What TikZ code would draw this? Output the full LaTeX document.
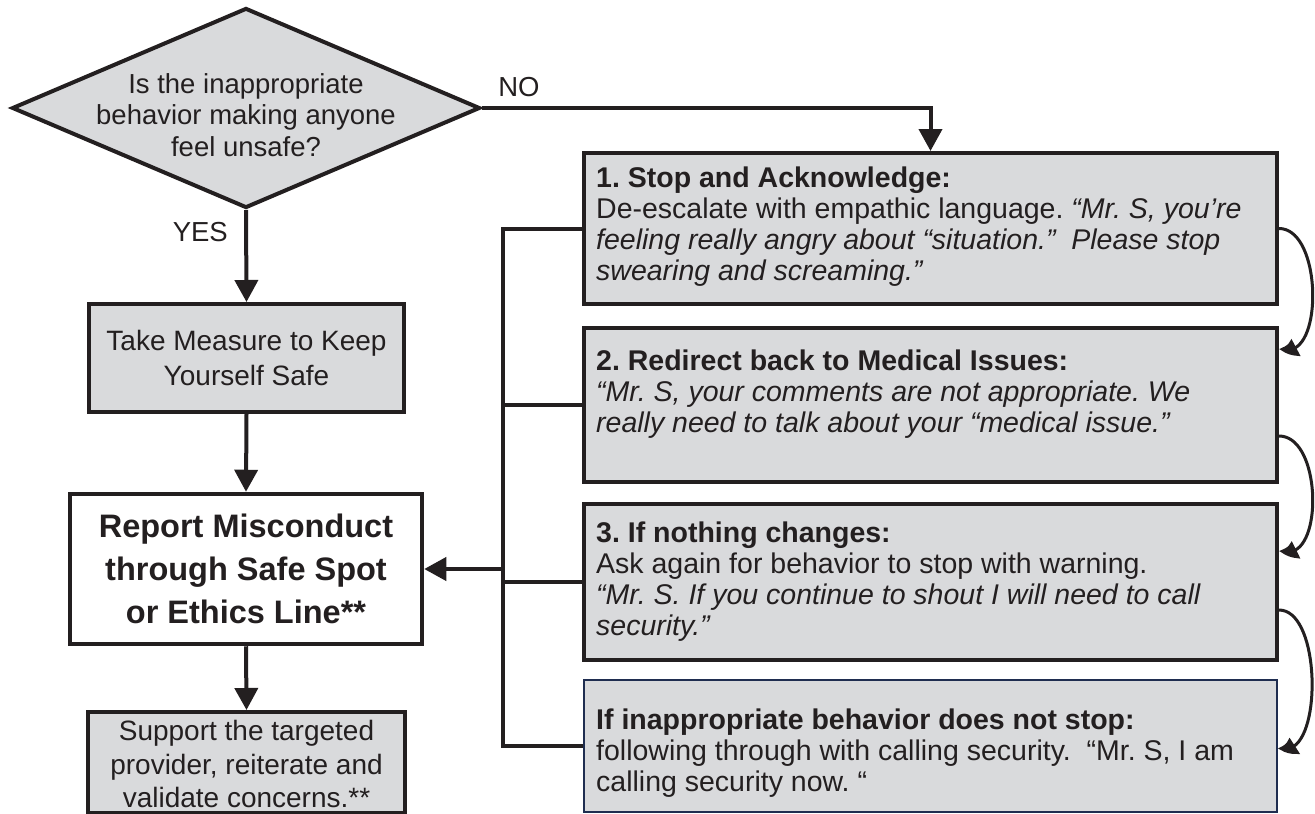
\documentclass[tikz,border=0pt]{standalone}
\usepackage{fontspec}
\setmainfont{Liberation Sans}
\usetikzlibrary{arrows.meta,shapes.geometric,calc,bending}
\definecolor{boxgray}{RGB}{217,218,220}
\definecolor{ink}{RGB}{35,31,32}
\definecolor{navy}{RGB}{31,45,80}
\begin{document}
\frenchspacing
\begin{tikzpicture}[x=1pt,y=-1pt,
  gbox/.style={draw=ink, line width=4pt, fill=boxgray, inner sep=0pt},
  wbox/.style={draw=ink, line width=4.5pt, fill=white, inner sep=0pt},
  nbox/.style={draw=navy, line width=1.5pt, fill=boxgray, inner sep=0pt},
  ltext/.style={font=\fontsize{28}{34.5}\selectfont, align=center, text=ink, inner sep=0pt},
  dtext/.style={font=\fontsize{27.5}{31.5}\selectfont, align=center, text=ink, inner sep=0pt},
  btext/.style={font=\bfseries\fontsize{32.5}{43}\selectfont, align=center, text=ink, inner sep=0pt},
  rtext/.style={font=\fontsize{28.5}{31}\selectfont, align=left, text=ink, inner sep=0pt, anchor=north west},
  lbl/.style={font=\fontsize{27.5}{31}\selectfont, text=ink, inner sep=0pt},
  line/.style={draw=ink, line width=4pt},
  conn/.style={draw=ink, line width=4pt, -{Triangle[length=22pt,width=23pt]}},
  curve/.style={draw=ink, line width=3pt, -{Triangle[length=20pt,width=18pt,bend]}}
]
\useasboundingbox (0,0) rectangle (1315,814);

% left column
\node[diamond, draw=ink, line width=4pt, fill=boxgray, minimum width=468pt, minimum height=200pt, inner sep=0pt] (dia) at (246,108) {};
\node[dtext] (q) at (246,115) {Is the inappropriate\\behavior making anyone\\feel unsafe?};
\node[gbox, minimum width=315pt, minimum height=108pt] (tm) at (246.5,358) {};
\node[ltext] (tmt) at (246.5,358) {Take Measure to Keep\\Yourself Safe};
\node[wbox, minimum width=352pt, minimum height=150pt] (rep) at (246,569) {};
\node[btext] (rept) at (246,569) {Report Misconduct\\through Safe Spot\\or Ethics Line**};
\node[gbox, minimum width=317pt, minimum height=101pt] (sup) at (246.5,762.5) {};
\node[ltext, font=\fontsize{28}{33.5}\selectfont] (supt) at (246.5,764) {Support the targeted\\provider, reiterate and\\validate concerns.**};

\node[lbl, anchor=east] (yes) at (228,232) {YES};
\node[lbl] (no) at (519,87) {NO};

% right column
\node[gbox, minimum width=693pt, minimum height=151pt] (b1) at (930.5,228.5) {};
\node[gbox, minimum width=693pt, minimum height=154pt] (b2) at (930.5,405) {};
\node[gbox, minimum width=693pt, minimum height=156pt] (b3) at (930.5,582) {};
\node[nbox, minimum width=693pt, minimum height=132pt] (b4) at (930.5,746) {};

\node[rtext] (t1) at (596,166.5) {\textbf{1. Stop and Acknowledge:}\\
De-escalate with empathic language. \textit{“Mr. S, you’re}\\
\textit{feeling really angry about “situation.”\ \ Please stop}\\
\textit{swearing and screaming.”}};
\node[rtext] (t2) at (596,350) {\textbf{2. Redirect back to Medical Issues:}\\
\textit{“Mr. S, your comments are not appropriate. We}\\
\textit{really need to talk about your “medical issue.”}};
\node[rtext] (t3) at (596,521.5) {\textbf{3. If nothing changes:}\\
Ask again for behavior to stop with warning.\\
\textit{“Mr. S. If you continue to shout I will need to call}\\
\textit{security.”}};
\node[rtext] (t4) at (596,708.5) {\textbf{If inappropriate behavior does not stop:}\\
following through with calling security.\ \ “Mr. S, I am\\
calling security now. “};

% connectors
\draw[conn] (dia.south) -- (tm.north);
\draw[conn] (tm.south) -- (rep.north);
\draw[conn] (rep.south) -- (sup.north);
\draw[conn] (dia.east) -| (b1.north);

\coordinate (busx) at (503,0);
\draw[line] (b1.west) -- (b1.west -| busx) -- (b4.west -| busx) -- (b4.west);
\draw[line] (b2.west) -- (b2.west -| busx);
\draw[line] (b3.west) -- (b3.west -| busx);
\draw[conn] (rep.east -| busx) -- (rep.east);

% curved arrows on the right
\coordinate (c1s) at (b1.east);
\coordinate (c1e) at ($(b2.north east)+(0,22)$);
\coordinate (c2s) at ($(b2.north east)+(0,110)$);
\coordinate (c2e) at ($(b3.north east)+(0,48)$);
\coordinate (c3s) at ($(b3.north east)+(0,108)$);
\coordinate (c3e) at ($(b4.north east)+(0,68)$);
\draw[curve] (c1s) .. controls +(45,0) and +(45,20) .. (c1e);
\draw[curve] (c2s) .. controls +(45,0) and +(45,20) .. (c2e);
\draw[curve] (c3s) .. controls +(45,0) and +(45,20) .. (c3e);
\end{tikzpicture}
\end{document}
